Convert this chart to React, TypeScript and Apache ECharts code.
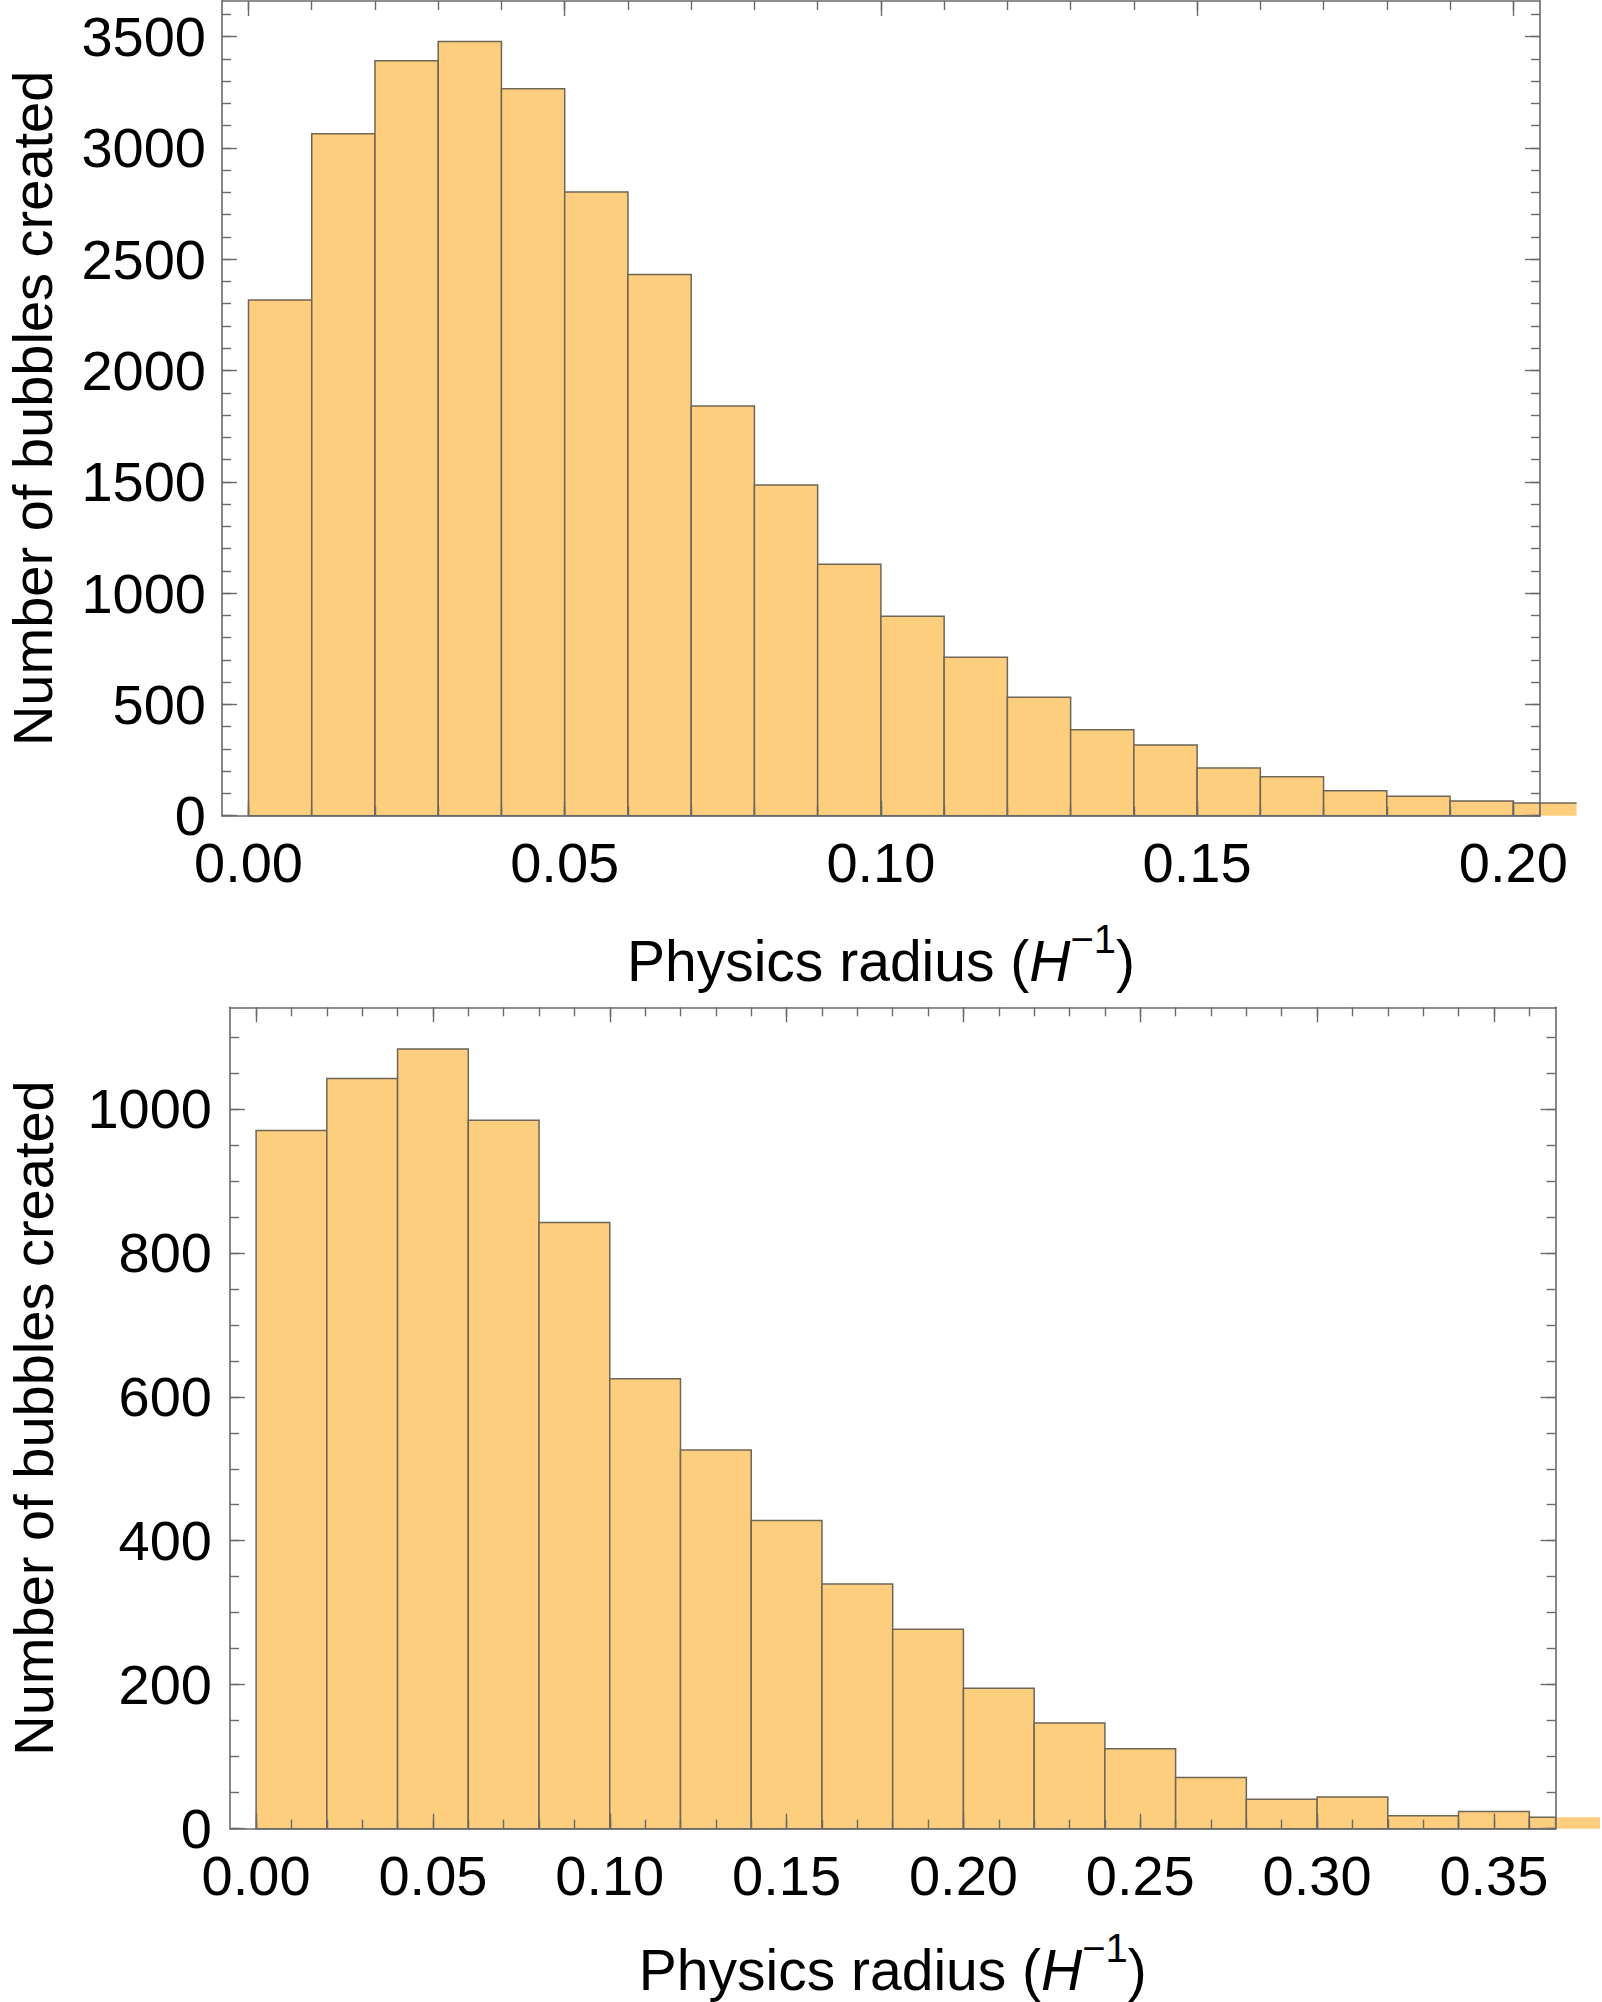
import React, { useEffect, useRef } from "react";
import * as echarts from "echarts";

// ---------- data ----------
const topBinStarts = [0.0, 0.01, 0.02, 0.03, 0.04, 0.05, 0.06, 0.07, 0.08, 0.09, 0.1, 0.11, 0.12, 0.13, 0.14, 0.15, 0.16, 0.17, 0.18, 0.19, 0.2];
const topBinWidth = 0.01;
const topCounts = [2317, 3064, 3392, 3478, 3266, 2802, 2431, 1841, 1486, 1130, 896, 712, 532, 386, 318, 214, 175, 112, 87, 66, 57];

const bottomBinStarts = [0.0, 0.02, 0.04, 0.06, 0.08, 0.1, 0.12, 0.14, 0.16, 0.18, 0.2, 0.22, 0.24, 0.26, 0.28, 0.3, 0.32, 0.34, 0.36];
const bottomBinWidth = 0.02;
const bottomCounts = [970, 1042, 1083, 984, 842, 625, 526, 428, 340, 277, 195, 147, 111, 71, 41, 44, 18, 24, 16];

// ---------- ticks ----------
const topXMajor = [0, 0.05, 0.1, 0.15, 0.2];
const topYMajor = [0, 500, 1000, 1500, 2000, 2500, 3000, 3500];
const bottomXMajor = [0, 0.05, 0.1, 0.15, 0.2, 0.25, 0.3, 0.35];
const bottomYMajor = [0, 200, 400, 600, 800, 1000];
const topXMinorStep = 0.01;
const topYMinorStep = 100;
const bottomXMinorStep = 0.01;
const bottomYMinorStep = 50;

// ---------- ranges (frame) ----------
const topXRange = [-0.00419, 0.20422];
const topYRange = [0, 3660];
const bottomXRange = [-0.00738, 0.36744];
const bottomYRange = [0, 1141];

const xTitle = "{n|Physics radius (}{i|H}{s|−1}{n|)}";
const yTitle = "Number of bubbles created";

const FONT = "Liberation Sans";
const FILL = "#FCCE7E";
const EDGE = "#6E6656";
const FRAME = "#6a6a6a";

function steps(a: number, b: number, s: number): number[] {
  const out: number[] = [];
  const n = Math.round((b - a) / s);
  for (let i = 0; i <= n; i++) out.push(Math.round((a + i * s) * 1e6) / 1e6);
  return out;
}

const nameRich = {
  n: { fontSize: 57, lineHeight: 44, fontFamily: FONT, color: "#000" },
  i: { fontSize: 57, lineHeight: 44, fontFamily: FONT, fontStyle: "italic", color: "#000" },
  s: { fontSize: 40, height: 1, lineHeight: 1, fontFamily: FONT, color: "#000", verticalAlign: "top" },
};

function axisBase(gridIndex: number, range: number[], position: string) {
  return {
    type: "value",
    gridIndex,
    min: range[0],
    max: range[1],
    position,
    z: 5,
    splitLine: { show: false },
    axisLine: { show: false, onZero: false, lineStyle: { color: FRAME, width: 1.6 } },
  };
}

function majorAxis(
  gridIndex: number,
  range: number[],
  position: string,
  ticks: number[],
  withLabels: boolean,
  fmt: (v: number) => string,
  margin: number,
  extra: any = {}
) {
  return {
    ...axisBase(gridIndex, range, position),
    axisLine: { show: true, onZero: false, lineStyle: { color: FRAME, width: 1.6 } },
    axisTick: { show: true, inside: true, length: 15, customValues: ticks, lineStyle: { color: FRAME, width: 1.4 } },
    axisLabel: withLabels
      ? { show: true, customValues: ticks, formatter: fmt, fontSize: 56, lineHeight: 42, fontFamily: FONT, color: "#000", margin }
      : { show: false },
    ...extra,
  };
}

function minorAxis(gridIndex: number, range: number[], position: string, ticks: number[]) {
  return {
    ...axisBase(gridIndex, range, position),
    axisTick: { show: true, inside: true, length: 9, customValues: ticks, lineStyle: { color: FRAME, width: 1.4 } },
    axisLabel: { show: false },
  };
}

function makeRender(overflowEdge: boolean) {
  return (params: any, api: any) => {
    const x0 = api.value(0);
    const x1 = api.value(1);
    const c = api.value(2);
    const pb = api.coord([x0, 0]);
    const pt = api.coord([x1, c]);
    const cs = params.coordSys;
    const right = cs.x + cs.width;
    const left = pb[0];
    const rx = pt[0];
    const top = pt[1];
    const bottom = pb[1];
    const inRight = Math.min(rx, right);
    const children: any[] = [
      {
        type: "rect",
        shape: { x: left, y: top, width: inRight - left, height: bottom - top },
        style: { fill: FILL, stroke: EDGE, lineWidth: 1.5 },
      },
    ];
    if (rx > right) {
      children.push({
        type: "rect",
        shape: { x: right, y: top, width: rx - right, height: bottom - top },
        style: { fill: FILL },
      });
      if (overflowEdge) {
        children.push({
          type: "line",
          shape: { x1: right, y1: top, x2: rx, y2: top },
          style: { stroke: EDGE, lineWidth: 1.5 },
        });
      }
    }
    return { type: "group", children };
  };
}

const fmtX = (v: number) => v.toFixed(2);
const fmtY = (v: number) => String(Math.round(v));

function xName(gap: number) {
  return {
    name: xTitle,
    nameLocation: "middle",
    nameGap: gap,
    nameTextStyle: { rich: nameRich, fontSize: 57, lineHeight: 44, fontFamily: FONT, color: "#000" },
  };
}

function yName(gap: number) {
  return {
    name: yTitle,
    nameLocation: "middle",
    nameGap: gap,
    nameTextStyle: { fontSize: 56, lineHeight: 44, fontFamily: FONT, color: "#000" },
  };
}

export default function App() {
  const ref = useRef<HTMLDivElement>(null);
  useEffect(() => {
    if (!ref.current) return;
    const chart = echarts.init(ref.current, null, { renderer: "svg" });

    const topXMinor = steps(0, 0.2, topXMinorStep);
    const topYMinor = steps(0, 3600, topYMinorStep);
    const botXMinor = steps(0, 0.36, bottomXMinorStep);
    const botYMinor = steps(0, 1100, bottomYMinorStep);

    const option: any = {
      animation: false,
      backgroundColor: "#fff",
      grid: [
        { left: 222, top: 1, width: 1318, height: 814.7, containLabel: false, outerBoundsMode: "none" },
        { left: 230, top: 1007.3, width: 1325.6, height: 821.4, containLabel: false, outerBoundsMode: "none" },
      ],
      xAxis: [
        majorAxis(0, topXRange, "bottom", topXMajor, true, fmtX, 26, xName(123)),
        majorAxis(0, topXRange, "top", topXMajor, false, fmtX, 0),
        minorAxis(0, topXRange, "bottom", topXMinor),
        minorAxis(0, topXRange, "top", topXMinor),
        majorAxis(1, bottomXRange, "bottom", bottomXMajor, true, fmtX, 26, xName(119)),
        majorAxis(1, bottomXRange, "top", bottomXMajor, false, fmtX, 0),
        minorAxis(1, bottomXRange, "bottom", botXMinor),
        minorAxis(1, bottomXRange, "top", botXMinor),
      ],
      yAxis: [
        majorAxis(0, topYRange, "left", topYMajor, true, fmtY, 16, yName(168)),
        majorAxis(0, topYRange, "right", topYMajor, false, fmtY, 0),
        minorAxis(0, topYRange, "left", topYMinor),
        minorAxis(0, topYRange, "right", topYMinor),
        majorAxis(1, bottomYRange, "left", bottomYMajor, true, fmtY, 18, yName(175)),
        majorAxis(1, bottomYRange, "right", bottomYMajor, false, fmtY, 0),
        minorAxis(1, bottomYRange, "left", botYMinor),
        minorAxis(1, bottomYRange, "right", botYMinor),
      ],
      series: [
        {
          type: "custom",
          xAxisIndex: 0,
          yAxisIndex: 0,
          clip: false,
          z: 2,
          renderItem: makeRender(true),
          encode: { x: [0, 1], y: 2 },
          data: topBinStarts.map((s, i) => [s, s + topBinWidth, topCounts[i]]),
        },
        {
          type: "custom",
          xAxisIndex: 4,
          yAxisIndex: 4,
          clip: false,
          z: 2,
          renderItem: makeRender(false),
          encode: { x: [0, 1], y: 2 },
          data: bottomBinStarts.map((s, i) => [s, s + bottomBinWidth, bottomCounts[i]]),
        },
      ],
    };
    chart.setOption(option);
    return () => chart.dispose();
  }, []);
  return (
    <div
      ref={ref}
      style={{ position: "absolute", left: 0, top: 0, width: 1602, height: 2002, background: "#fff" }}
    />
  );
}
